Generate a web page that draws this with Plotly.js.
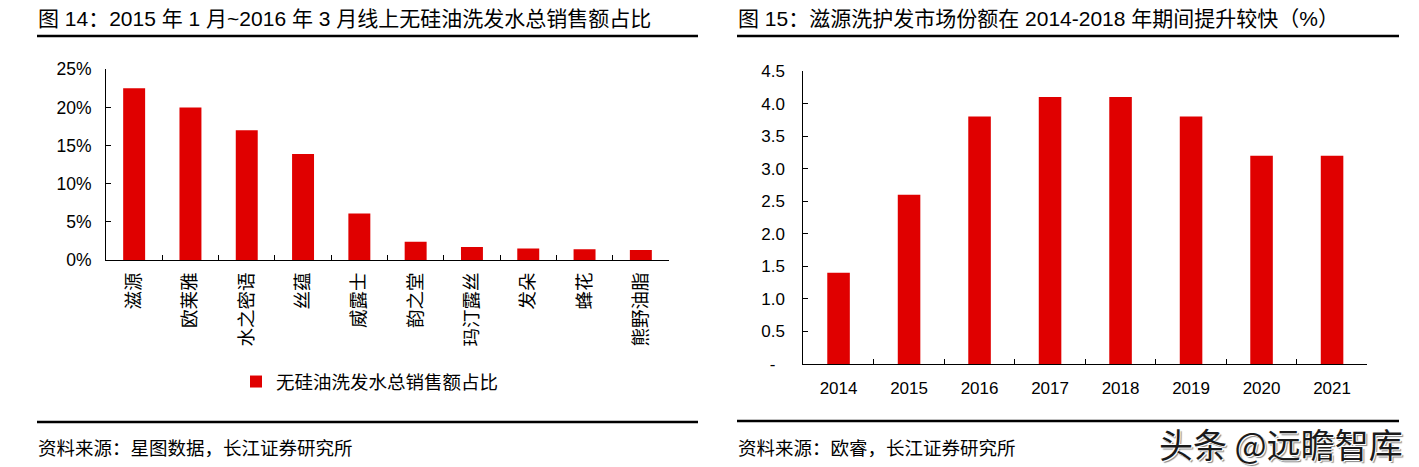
<!DOCTYPE html>
<html>
<head>
<meta charset="utf-8">
<script src="https://cdn.plot.ly/plotly-3.0.1.min.js"></script>
<style>html,body{margin:0;padding:0;background:#fff;}#chart{width:1419px;height:467px;}</style>
</head>
<body>
<div id="chart"></div>
<script>
// ---- data ----
const brandNames = ['滋源','欧莱雅','水之密语','丝蕴','威露士','韵之堂','玛汀露丝','发朵','蜂花','熊野油脂'];
const brandShare = [22.5, 20.0, 17.0, 13.9, 6.1, 2.4, 1.7, 1.5, 1.4, 1.3];
const seriesName = '无硅油洗发水总销售额占比';
const years = ['2014','2015','2016','2017','2018','2019','2020','2021'];
const ziyuanShare = [1.4, 2.6, 3.8, 4.1, 4.1, 3.8, 3.2, 3.2];
const leftYTicks = [0, 5, 10, 15, 20, 25];
const leftYTickText = ['0%', '5%', '10%', '15%', '20%', '25%'];
const rightYTicks = [0, 0.5, 1.0, 1.5, 2.0, 2.5, 3.0, 3.5, 4.0, 4.5];
const rightYTickText = ['-\u00a0\u00a0', '0.5', '1.0', '1.5', '2.0', '2.5', '3.0', '3.5', '4.0', '4.5'];
const titleLeft = '图 14：2015 年 1 月~2016 年 3 月线上无硅油洗发水总销售额占比';
const titleRight = '图 15：滋源洗护发市场份额在 2014-2018 年期间提升较快（%）';
const sourceLeft = '资料来源：星图数据，长江证券研究所';
const sourceRight = '资料来源：欧睿，长江证券研究所';
const watermark = '头条 @远瞻智库';

// ---- layout helpers ----
const W = 1419, H = 467;
const px = v => v / W;
const py = v => 1 - v / H;
const FONT = 'Liberation Sans, Arial, "Noto Sans CJK SC", sans-serif';
const RED = '#E00000';

const traces = [
  {
    type: 'bar', x: brandNames, y: brandShare, name: seriesName,
    xaxis: 'x', yaxis: 'y', width: 0.39,
    marker: {color: RED}, hoverinfo: 'x+y', showlegend: true
  },
  {
    type: 'bar', x: years, y: ziyuanShare, name: '滋源',
    xaxis: 'x2', yaxis: 'y2', width: 0.32,
    marker: {color: RED}, hoverinfo: 'x+y', showlegend: false
  }
];

const axisCommon = {
  showline: true, linecolor: '#000', linewidth: 1,
  showgrid: false, zeroline: false,
  ticks: 'inside', ticklen: 5, tickcolor: '#000', tickwidth: 1,
  fixedrange: true
};

const layout = {
  width: W, height: H,
  margin: {l: 0, r: 0, t: 0, b: 0, pad: 0},
  paper_bgcolor: '#fff', plot_bgcolor: 'rgba(0,0,0,0)',
  font: {family: FONT, color: '#000', size: 17},
  showlegend: true,
  legend: {
    x: px(236), y: py(382), xanchor: 'left', yanchor: 'middle',
    orientation: 'h', bgcolor: 'rgba(0,0,0,0)',
    font: {family: FONT, size: 18.5, color: '#000'},
    itemwidth: 30
  },
  xaxis: Object.assign({}, axisCommon, {
    domain: [px(106), px(669)], type: 'category',
    tickson: 'boundaries', tickangle: -90,
    tickfont: {family: FONT, size: 18.5, color: '#000'},
    ticklabelstandoff: 4, anchor: 'y'
  }),
  yaxis: Object.assign({}, axisCommon, {
    domain: [1 - 260 / H, 1 - 69.3 / H], range: [0, 25],
    tickvals: leftYTicks, ticktext: leftYTickText,
    tickfont: {family: FONT, size: 17.5, color: '#000'},
    ticklabelstandoff: 10, anchor: 'x'
  }),
  xaxis2: Object.assign({}, axisCommon, {
    domain: [px(803.3), px(1367.3)], type: 'category',
    tickson: 'boundaries', tickangle: 0,
    tickfont: {family: FONT, size: 17, color: '#000'},
    ticklabelstandoff: 9, anchor: 'y2'
  }),
  yaxis2: Object.assign({}, axisCommon, {
    domain: [1 - 364 / H, 1 - 71 / H], range: [0, 4.5],
    tickvals: rightYTicks, ticktext: rightYTickText,
    tickfont: {family: FONT, size: 17, color: '#000'},
    ticklabelstandoff: 14, anchor: 'x2'
  }),
  shapes: [
    {type: 'line', xref: 'paper', yref: 'paper', x0: px(37), x1: px(698), y0: py(36), y1: py(36), line: {color: '#000', width: 2.5}},
    {type: 'line', xref: 'paper', yref: 'paper', x0: px(737), x1: px(1399), y0: py(36), y1: py(36), line: {color: '#000', width: 2.5}},
    {type: 'line', xref: 'paper', yref: 'paper', x0: px(37), x1: px(698), y0: py(422), y1: py(422), line: {color: '#000', width: 2.5}},
    {type: 'line', xref: 'paper', yref: 'paper', x0: px(737), x1: px(1399), y0: py(421), y1: py(421), line: {color: '#000', width: 2.5}}
  ],
  annotations: [
    {text: titleLeft, xref: 'paper', yref: 'paper', x: px(36), y: py(19), xanchor: 'left', yanchor: 'middle', showarrow: false, font: {family: FONT, size: 21, color: '#000'}},
    {text: titleRight, xref: 'paper', yref: 'paper', x: px(736), y: py(19), xanchor: 'left', yanchor: 'middle', showarrow: false, font: {family: FONT, size: 21, color: '#000'}},
    {text: sourceLeft, xref: 'paper', yref: 'paper', x: px(36), y: py(448), xanchor: 'left', yanchor: 'middle', showarrow: false, font: {family: FONT, size: 18.5, color: '#000'}},
    {text: sourceRight, xref: 'paper', yref: 'paper', x: px(736), y: py(448), xanchor: 'left', yanchor: 'middle', showarrow: false, font: {family: FONT, size: 18.5, color: '#000'}},
    {text: watermark, xref: 'paper', yref: 'paper', x: px(1405), y: py(443), xanchor: 'right', yanchor: 'middle', showarrow: false,
     font: {family: '"Noto Sans CJK SC", sans-serif', size: 34, color: '#1a1a1a', shadow: '1px 1px 0px #fff, -1px -1px 0px #fff, 2px 2px 1px #888'}}
  ]
};

Plotly.newPlot('chart', traces, layout, {displayModeBar: false, staticPlot: true});
</script>
</body>
</html>
